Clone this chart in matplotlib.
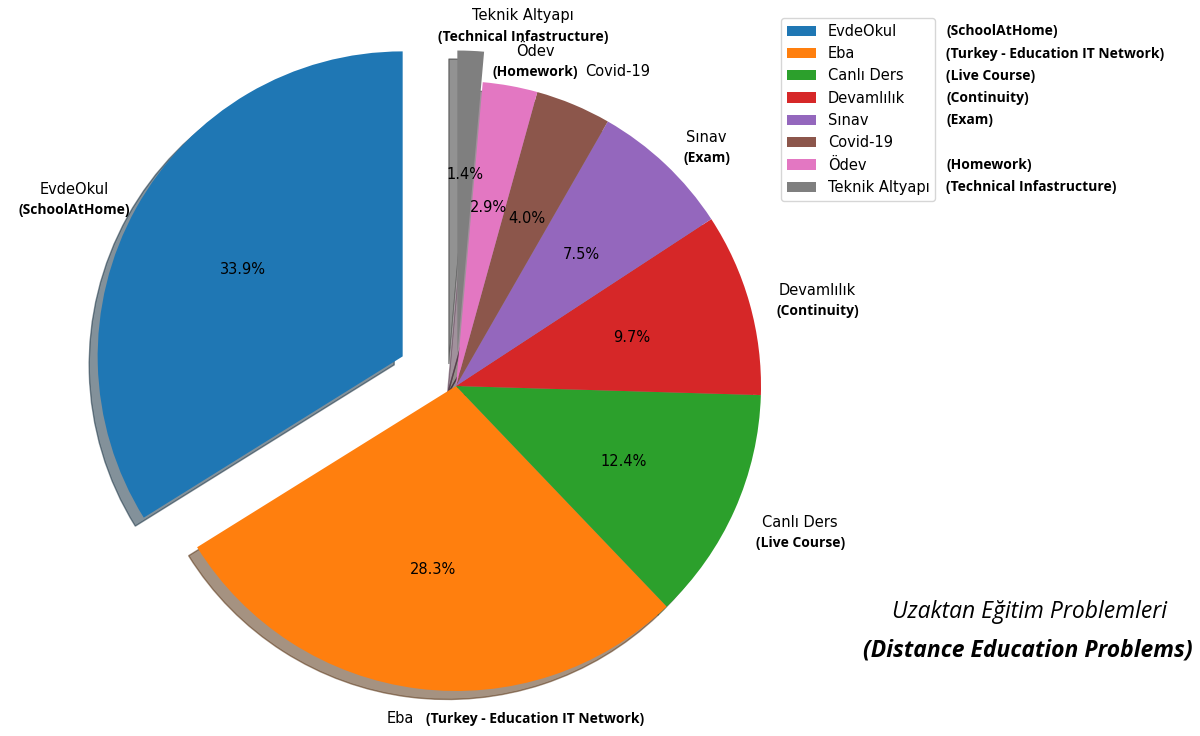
import matplotlib
matplotlib.use('Agg')
import matplotlib.pyplot as plt

categories = ['EvdeOkul', 'Eba', 'Canlı Ders', 'Devamlılık', 'Sınav',
              'Covid-19', 'Ödev', 'Teknik Altyapı']
translations = ['(SchoolAtHome)', '(Turkey - Education IT Network)',
                '(Live Course)', '(Continuity)', '(Exam)', None,
                '(Homework)', '(Technical Infastructure)']
shares = [33.9, 28.3, 12.4, 9.7, 7.5, 4.0, 2.9, 1.4]
explode = [0.2, 0, 0, 0, 0, 0, 0, 0.1]
# where the translation sits relative to the pie label
trans_place = ['below', 'right', 'below', 'below', 'below', None, 'below', 'below']

title_tr = 'Uzaktan Eğitim Problemleri'
title_en = '(Distance Education Problems)'

plt.rcParams['font.family'] = ['DejaVu Sans']

W, H = 1200, 736
fig = plt.figure(figsize=(W / 100, H / 100), dpi=100)
ax = fig.add_axes([0, 0, 1, 1])

wedges, texts, autotexts = ax.pie(
    shares, labels=categories, explode=explode, autopct='%1.1f%%',
    shadow=True, startangle=90, textprops={'fontsize': 10.5})
for t in texts:
    if t.get_position()[1] > 0:
        t.set_verticalalignment('baseline')
for t in autotexts:
    t.set_verticalalignment('center_baseline')

# pixel layout: pie centre and radius
R, cx, cy = 305.0, 456.0, 386.0
ax.set_xlim(-cx / R, (W - cx) / R)
ax.set_ylim(-(H - cy) / R, cy / R)
ax.set_aspect('auto')
ax.axis('off')

bold = dict(family='Open Sans', fontweight='bold', fontsize=10, color='black')

for txt, tr, place in zip(texts, translations, trans_place):
    if tr is None:
        continue
    if place == 'below':
        ax.annotate(tr, xy=(0.5, 0), xycoords=txt, xytext=(0, -4.5),
                    textcoords='offset points', ha='center', va='top', **bold)
    else:
        ax.annotate(tr, xy=(1, 0.5), xycoords=txt, xytext=(9, 0),
                    textcoords='offset points', ha='left', va='center', **bold)

leg = ax.legend(wedges, categories, loc='upper left',
                bbox_to_anchor=(781 / W, 1 - 18 / H),
                bbox_transform=fig.transFigure, borderaxespad=0, fontsize=10.5)

fig.canvas.draw()

for t, tr in zip(leg.get_texts(), translations):
    if tr is None:
        continue
    ax.annotate(tr, xy=(1, 0.5), xycoords=(leg.get_frame(), t), xytext=(8, 0),
                textcoords='offset points', ha='left', va='center',
                zorder=6, **bold)

fig.text(1029 / W, 1 - 612 / H, title_tr, family='Open Sans', fontstyle='italic',
         fontsize=16.5, ha='center', va='center')
fig.text(1028 / W, 1 - 650 / H, title_en, family='Open Sans', fontstyle='italic',
         fontweight='bold', fontsize=16.5, ha='center', va='center')

fig.savefig('out.png', dpi=100)
